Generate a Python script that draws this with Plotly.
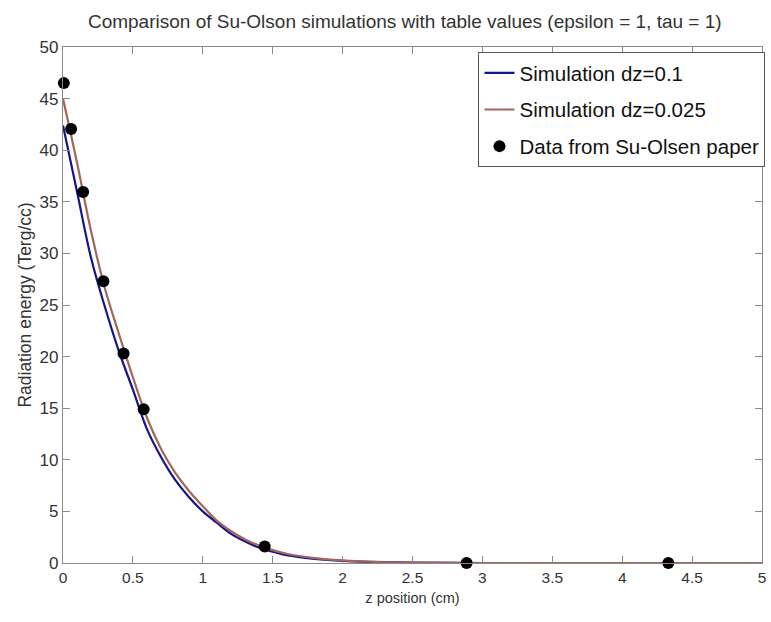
import plotly.graph_objects as go

# Simulation curves
z_sim = [0, 0.1, 0.2, 0.3, 0.4, 0.5, 0.6, 0.7, 0.8, 0.9, 1.0, 1.1, 1.2, 1.3, 1.4,
         1.5, 1.6, 1.8, 2.0, 2.2, 2.5, 3.0, 3.5, 4.0, 4.5, 5.0]
e_dz01 = [42.4, 36.0, 29.6, 24.8, 20.5, 16.8, 13.0, 10.3, 8.1, 6.4, 5.0, 3.9, 2.85,
          2.1, 1.5, 1.1, 0.75, 0.4, 0.2, 0.1, 0.03, 0.0, 0.0, 0.0, 0.0, 0.0]
e_dz0025 = [45.0, 38.8, 32.2, 26.6, 22.2, 18.0, 14.1, 11.1, 8.8, 7.0, 5.5, 4.1, 3.1,
            2.3, 1.7, 1.25, 0.9, 0.48, 0.25, 0.12, 0.04, 0.0, 0.0, 0.0, 0.0, 0.0]

# Su-Olsen table data
z_data = [0.006, 0.058, 0.144, 0.289, 0.433, 0.577, 1.443, 2.887, 4.330]
e_data = [46.5, 42.05, 35.95, 27.3, 20.3, 14.9, 1.6, 0.0, 0.0]

x_ticks = [0, 0.5, 1, 1.5, 2, 2.5, 3, 3.5, 4, 4.5, 5]
y_ticks = [0, 5, 10, 15, 20, 25, 30, 35, 40, 45, 50]

FONT = "Liberation Sans, Arial, sans-serif"
BLUE = "#14148c"
BROWN = "#a2675a"

fig = go.Figure()
fig.add_trace(go.Scatter(x=z_sim, y=e_dz01, mode="lines", name="Simulation dz=0.1",
                         line=dict(color=BLUE, width=2.2, shape="spline"),
                         legendgroup="a"))
fig.add_trace(go.Scatter(x=z_sim, y=e_dz0025, mode="lines", name="Simulation dz=0.025",
                         line=dict(color=BROWN, width=2.2, shape="spline"),
                         legendgroup="b"))
fig.add_trace(go.Scatter(x=z_data, y=e_data, mode="markers", name="Data from Su-Olsen paper",
                         marker=dict(color="black", size=12), cliponaxis=False,
                         legendgroup="c"))

axis_common = dict(showgrid=False, zeroline=False, showline=True, linecolor="#8a8a8a",
                   linewidth=1.2, mirror="ticks", ticks="inside", ticklen=7,
                   tickcolor="#8a8a8a", tickwidth=1)

fig.update_layout(
    width=771, height=622,
    margin=dict(l=63, r=6, t=47, b=59),
    paper_bgcolor="white", plot_bgcolor="white",
    font=dict(family=FONT, color="#333333"),
    title=dict(text="Comparison of Su-Olson simulations with table values (epsilon = 1, tau = 1)",
               x=0.525, xref="container", xanchor="center",
               y=1 - 21 / 622, yref="container", yanchor="middle",
               font=dict(size=19, family=FONT, color="#333333")),
    xaxis=dict(range=[0, 5], tickvals=x_ticks, ticktext=[f"{v:g}" for v in x_ticks],
               tickfont=dict(size=15.5, family=FONT, color="#333333"),
               title=dict(text="z position (cm)", font=dict(size=14.5, family=FONT, color="#333333"),
                          standoff=8),
               **axis_common),
    yaxis=dict(range=[0, 50], tickvals=y_ticks, ticktext=[str(v) for v in y_ticks],
               tickfont=dict(size=17, family=FONT, color="#333333"),
               title=dict(text="Radiation energy (Terg/cc)", font=dict(size=17.5, family=FONT, color="#333333"),
                          standoff=3),
               **axis_common),
    legend=dict(x=1.005, xanchor="right", y=1 - 5 / 516, yanchor="top",
                bgcolor="white", bordercolor="#555555", borderwidth=1,
                font=dict(size=20.5, family=FONT, color="#111111"),
                traceorder="grouped", tracegroupgap=7, itemwidth=30),
    showlegend=True,
)

fig.write_html("out.html")
